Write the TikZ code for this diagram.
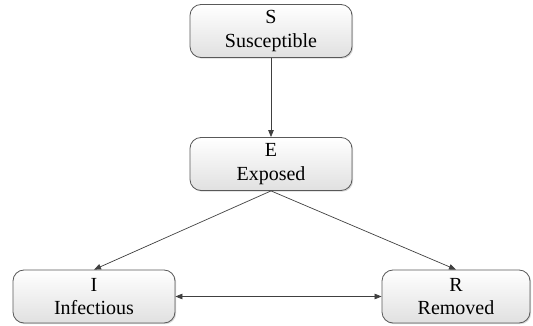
\documentclass[tikz,border=0pt]{standalone}
\usepackage{fontspec}
\setmainfont{Liberation Serif}
\newfontfamily\boxfont{Liberation Serif}
\usetikzlibrary{arrows.meta,shadows}
\begin{document}
\begin{tikzpicture}[x=1pt,y=-1pt,
  statebox/.style={draw=black!65, line width=0.8pt, rounded corners=11pt,
    top color=white, bottom color=black!12, minimum width=162pt, minimum height=53pt,
    align=center, font=\boxfont\fontsize{20}{23.5}\selectfont, inner sep=0pt,
    drop shadow={shadow xshift=1.2pt, shadow yshift=-1.2pt, opacity=0.25, fill=black!60}},
  conn/.style={draw=black!75, line width=0.7pt, -{Triangle[length=7pt,width=5.5pt]}}]
\useasboundingbox (0,0) rectangle (533,326);
\node[statebox] (S) at (271,31) {S\\Susceptible};
\node[statebox] (E) at (271,164) {E\\Exposed};
\node[statebox] (I) at (94,296.5) {I\\Infectious};
\node[statebox, minimum width=148pt] (R) at (456,296.5) {R\\Removed};
\draw[conn] (S.south) -- (E.north);
\draw[conn] (E.south) -- (I.north);
\draw[conn] (E.south) -- (R.north);
\draw[conn, {Triangle[length=7pt,width=5.5pt]}-{Triangle[length=7pt,width=5.5pt]}] (I.east) -- (R.west);
\end{tikzpicture}
\end{document}
